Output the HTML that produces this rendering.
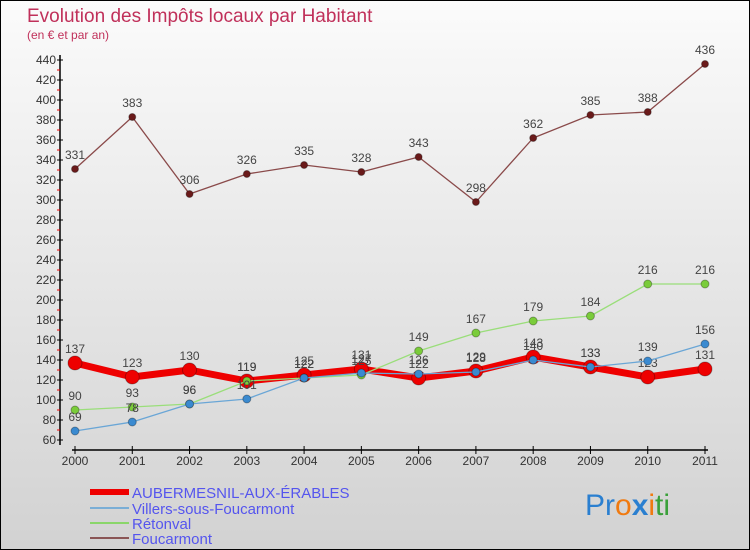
<!DOCTYPE html>
<html><head><meta charset="utf-8"><style>
body{margin:0}
svg{display:block;font-family:"Liberation Sans",sans-serif}
</style></head><body>
<svg width="750" height="550" xmlns="http://www.w3.org/2000/svg" id="chart">
<defs><linearGradient id="bg" x1="0" y1="0" x2="0" y2="1"><stop offset="0" stop-color="#fbfbfb"/><stop offset="1" stop-color="#d2d2d2"/></linearGradient></defs>
<rect x="0.5" y="0.5" width="749" height="549" fill="url(#bg)" stroke="#000"/>
<text x="27" y="22" font-size="19" fill="#c0305a">Evolution des Impôts locaux par Habitant</text>
<text x="27" y="39" font-size="12" fill="#c0305a">(en € et par an)</text>
<g id="axes"></g>
<g id="series"></g>
<g font-size="15" fill="#5555ee">
<line x1="90" y1="492" x2="129" y2="492" stroke="#e00" stroke-width="6"/><text x="132" y="498">AUBERMESNIL-AUX-ÉRABLES</text>
<line x1="90" y1="508" x2="129" y2="508" stroke="#7aaed6" stroke-width="2"/><text x="132" y="514">Villers-sous-Foucarmont</text>
<line x1="90" y1="523" x2="129" y2="523" stroke="#8ad66a" stroke-width="2"/><text x="132" y="529">Rétonval</text>
<line x1="90" y1="538" x2="129" y2="538" stroke="#8a5555" stroke-width="2"/><text x="132" y="544">Foucarmont</text>
</g>
<text x="585" y="515" font-size="30"><tspan fill="#2a7fd0">Pr</tspan><tspan fill="#f07a10">o</tspan><tspan fill="#2a7fd0" font-weight="bold">x</tspan><tspan fill="#f07a10">i</tspan><tspan fill="#3aa03a">ti</tspan></text>
</svg>
<script>
const years=["2000","2001","2002","2003","2004","2005","2006","2007","2008","2009","2010","2011"];
const aubermesnil=[137,123,130,119,125,131,122,129,143,133,123,131];
const villers=[69,78,96,101,122,127,126,128,140,133,139,156];
const retonval=[90,93,96,119,122,125,149,167,179,184,216,216];
const foucarmont=[331,383,306,326,335,328,343,298,362,385,388,436];
const yTicks=[60,80,100,120,140,160,180,200,220,240,260,280,300,320,340,360,380,400,420,440];
const NS="http://www.w3.org/2000/svg";
const xS=i=>75+i*(705-75)/(years.length-1);
const yS=v=>60+(440-v)*(440-60)/(440-60);
function mk(p,t,a){const e=document.createElementNS(NS,t);for(const k in a)e.setAttribute(k,a[k]);p.appendChild(e);return e;}
const ax=document.getElementById('axes');
let l=mk(ax,'line',{x1:60,y1:55,x2:60,y2:445,stroke:'#000','stroke-width':1.5});


l=mk(ax,'line',{x1:72,y1:450,x2:708,y2:450,stroke:'#000','stroke-width':1.5});


yTicks.forEach((v,i)=>{
  mk(ax,'line',{x1:57,y1:yS(v),x2:63,y2:yS(v),stroke:'#000'});
  if(i<yTicks.length-1)mk(ax,'line',{x1:57,y1:yS(v+10),x2:60,y2:yS(v+10),stroke:'#e00'});
  const t=mk(ax,'text',{x:56,y:yS(v)+4,'text-anchor':'end','font-size':12,fill:'#333'});
  t.textContent=v;
  
  
});
years.forEach((y,i)=>{
  mk(ax,'line',{x1:xS(i),y1:446,x2:xS(i),y2:454,stroke:'#000'});
  const t=mk(ax,'text',{x:xS(i),y:465,'text-anchor':'middle','font-size':12,fill:'#333'});
  t.textContent=y;
  
  
});
const sg=document.getElementById('series');
function series(name,data,color,w,r,fill){
  const g=mk(sg,'g',{});
  
  
  const pl=mk(g,'polyline',{points:data.map((v,i)=>xS(i)+','+yS(v)).join(' '),fill:'none',stroke:color,'stroke-width':w,'stroke-linejoin':'round'});
  
  
  data.forEach((v,i)=>{
    const c=mk(g,'circle',{cx:xS(i),cy:yS(v),r:r,fill:fill,stroke:'rgba(0,0,0,0.3)','stroke-width':1});
    
    
    const t=mk(g,'text',{x:xS(i),y:yS(v)-10,'text-anchor':'middle','font-size':12,fill:'#444'});
    t.textContent=v;
    
    
  });
}
series('foucarmont',foucarmont,'#8a4a4a',1.3,3.5,'#6a1a1a');
series('aubermesnil',aubermesnil,'#ee0000',7,7,'#ee0000');
series('retonval',retonval,'#9ade7a',1.3,4,'#7acc3a');
series('villers',villers,'#6aa6d6',1.3,4,'#3a8ad0');
</script>
</body></html>
